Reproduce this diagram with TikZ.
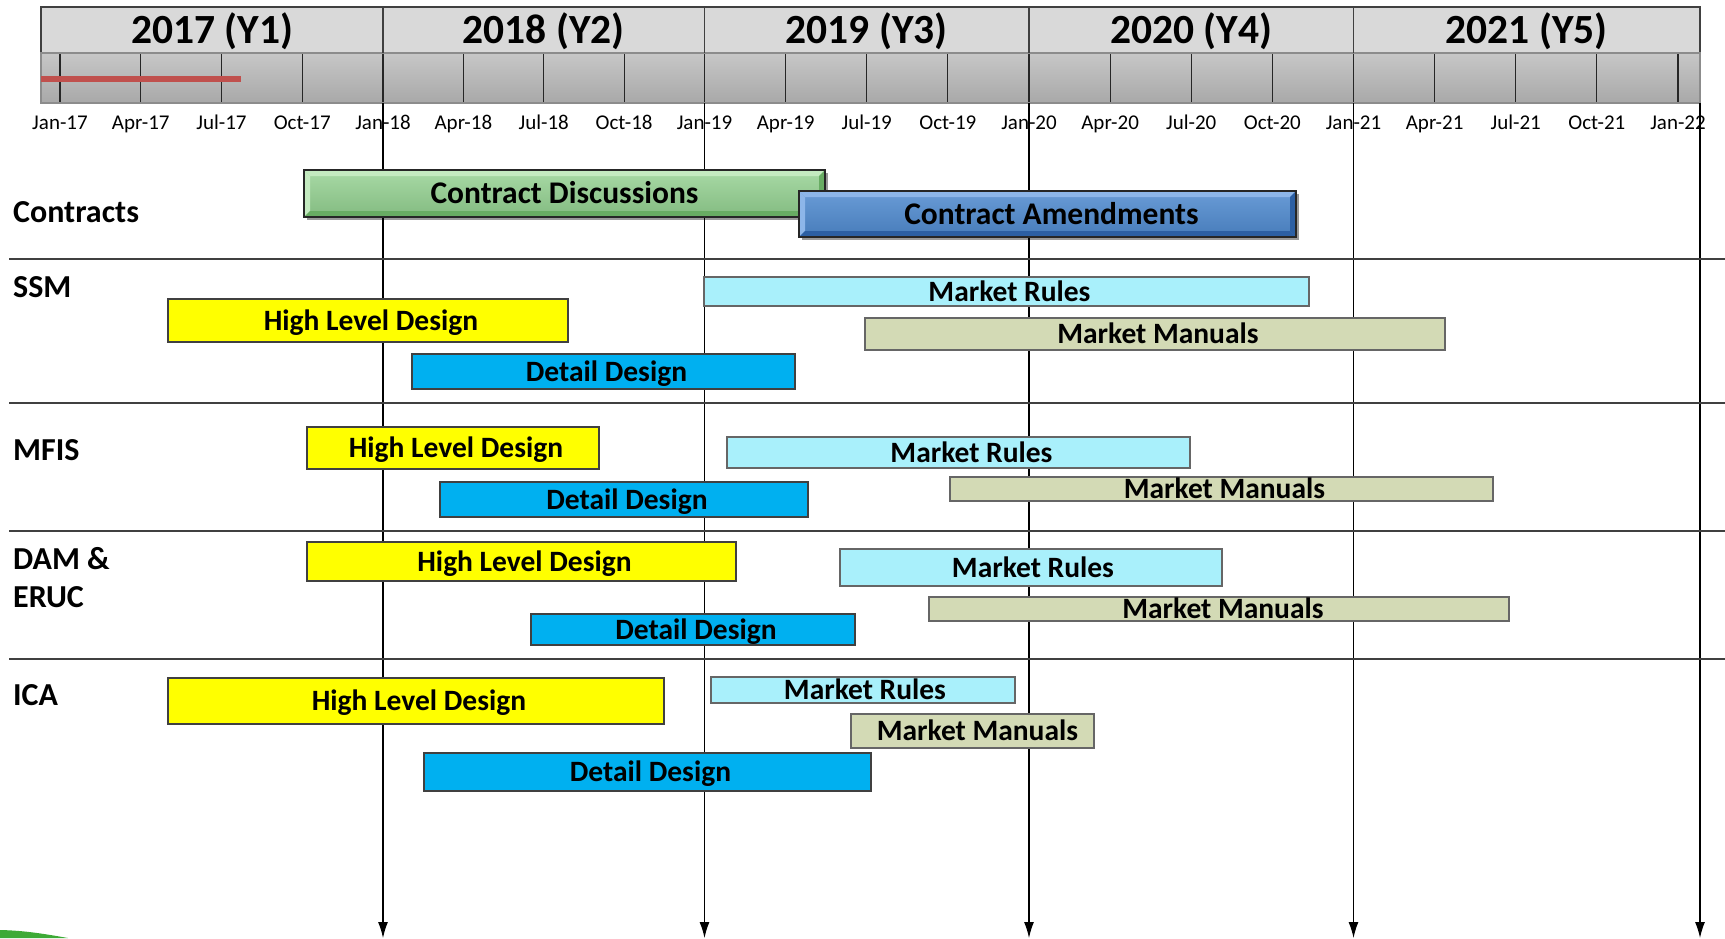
\documentclass[tikz,border=0pt]{standalone}
\usepackage{fontspec}
\setmainfont{Carlito}
\usetikzlibrary{arrows.meta,shadows,calc}
\definecolor{hlyel}{HTML}{FFFF00}
\definecolor{ddblue}{HTML}{00B0F0}
\definecolor{mrcyan}{HTML}{A9F0FB}
\definecolor{mmolive}{HTML}{D3DAB5}
\definecolor{hdrgray}{HTML}{D9D9D9}
\definecolor{redbar}{HTML}{C0504D}
\definecolor{cdgreen}{HTML}{92D08F}
\definecolor{cdgreenL}{HTML}{C4EAC0}
\definecolor{cdgreenD}{HTML}{68AC63}
\definecolor{cablue}{HTML}{4F8ACF}
\definecolor{cablueL}{HTML}{8DB6E9}
\definecolor{cablueD}{HTML}{2C5FA3}
\definecolor{sepgray}{HTML}{404040}
\definecolor{swoosh}{HTML}{3DAA36}
% #1 style, #2 name, #3 x1, #4 y1, #5 x2, #6 y2, #7 text shift, #8 text
\newcommand{\mybar}[8]{%
  \pgfmathsetmacro\bw{#5-#3}\pgfmathsetmacro\bh{#6-#4}%
  \node[#1, minimum width=\bw pt, minimum height=\bh pt] (#2) at (#3,#4) {};
  \node[bartext] (#2t) at ($(#2.center)+(#7,0)$) {#8};}
\newcommand{\mybevel}[4]{%
  \fill[#2] (#1.north west) -- (#1.north east) -- ($(#1.north east)+(-#4,#4)$) -- ($(#1.north west)+(#4,#4)$) -- cycle;
  \fill[#2] (#1.north west) -- ($(#1.north west)+(#4,#4)$) -- ($(#1.south west)+(#4,-#4)$) -- (#1.south west) -- cycle;
  \fill[#3] (#1.south west) -- (#1.south east) -- ($(#1.south east)+(-#4,-#4)$) -- ($(#1.south west)+(#4,-#4)$) -- cycle;
  \fill[#3] (#1.north east) -- ($(#1.north east)+(-#4,#4)$) -- ($(#1.south east)+(-#4,-#4)$) -- (#1.south east) -- cycle;
  \draw[black!85, line width=1.3pt] (#1.north west) rectangle (#1.south east);}
\begin{document}
\begin{tikzpicture}[x=1pt,y=-1pt,
  barbase/.style={draw=black!75, line width=1.1pt, inner sep=0pt, outer sep=0pt, anchor=north west},
  bartext/.style={inner sep=0pt, font=\fontsize{29.5}{34}\selectfont\bfseries, text height=19pt, text depth=0pt},
  cbartext/.style={inner sep=0pt, font=\fontsize{31.5}{36}\selectfont\bfseries, text height=20.3pt, text depth=0pt},
  hld/.style={barbase, fill=hlyel},
  ddb/.style={barbase, fill=ddblue},
  mrb/.style={barbase, fill=mrcyan, draw=black!60},
  mmb/.style={barbase, fill=mmolive, draw=black!60},
  cbar/.style={barbase,
    drop shadow={shadow xshift=3pt, shadow yshift=-3pt, opacity=0.4, fill=black}},
  rowlab/.style={anchor=base west, inner sep=0pt, font=\fontsize{32}{37}\selectfont\bfseries},
  yearlab/.style={anchor=base, inner sep=0pt, font=\fontsize{41.5}{48}\selectfont\bfseries},
  mlabel/.style={anchor=base, inner sep=0pt, font=\fontsize{21}{25}\selectfont},
  vline/.style={line width=1.2pt, black, -{Latex[length=16pt,width=10pt]}},
  sepline/.style={line width=1.5pt, sepgray},
  tick/.style={line width=1.2pt, black!85}
]
\useasboundingbox (0,0) rectangle (1725,938);
\fill[white] (0,0) rectangle (1725,938);

% header
\node[draw=sepgray, line width=1.5pt, fill=hdrgray, minimum width=1659pt, minimum height=46pt, anchor=north west, inner sep=0pt, outer sep=0pt] (yearrow) at (41,7) {};
\node[draw=black!45, line width=1.5pt, top color=black!22, bottom color=black!34, minimum width=1659pt, minimum height=50pt, anchor=north west, inner sep=0pt, outer sep=0pt] (monthrow) at (41,53) {};
\foreach \xx in {383,704.5,1029,1353.5} {\draw[sepgray, line width=1.5pt] (\xx,7) -- (\xx,53);}
\foreach \k/\a/\b/\yy in {0/60/383/17, 1/383/704.5/18, 2/704.5/1029/19, 3/1029/1353.5/20, 4/1353.5/1678/21} {
  \foreach \j/\m in {0/Jan,1/Apr,2/Jul,3/Oct} {
    \pgfmathsetmacro\xx{\a+\j*(\b-\a)/4}
    \draw[tick] (\xx,54) -- (\xx,102);
    \node[mlabel] (m\k\j) at (\xx,129) {\m-\yy};
  }
}
\draw[tick] (1678,54) -- (1678,102);
\node[mlabel] (m50) at (1678,129) {Jan-22};
\node[yearlab] (y1) at (212,43) {2017 (Y1)};
\node[yearlab] (y2) at (543.75,43) {2018 (Y2)};
\node[yearlab] (y3) at (866.75,43) {2019 (Y3)};
\node[yearlab] (y4) at (1191.25,43) {2020 (Y4)};
\node[yearlab] (y5) at (1526.75,43) {2021 (Y5)};
\coordinate (rs) at (41,79);
\coordinate (re) at (241,79);
\draw[redbar, line width=6pt] (rs) -- (re);

% vertical arrows
\foreach \i/\xx in {1/383,2/704.5,3/1029,4/1353.5,5/1700} {
  \coordinate (vt\i) at (\xx,103);
  \coordinate (vb\i) at (\xx,938);
  \draw[vline] (vt\i) -- (vb\i);
}

% separators
\foreach \i/\yy in {1/259,2/403,3/531,4/659} {
  \coordinate (sl\i) at (9,\yy);
  \coordinate (sr\i) at (1725,\yy);
  \draw[sepline] (sl\i) -- (sr\i);
}

% row labels
\node[rowlab] (lcon) at (13,222) {Contracts};
\node[rowlab] (lssm) at (13,297) {SSM};
\node[rowlab] (lmfis) at (13,460) {MFIS};
\node[rowlab] (ldam) at (13,569) {DAM \&};
\node[rowlab] (leruc) at (13,607) {ERUC};
\node[rowlab] (lica) at (13,705) {ICA};

% contracts
\mybar{cbar, top color=cdgreen!80!white, bottom color=cdgreen!90!black}{cd}{304}{170}{825}{217}{0}{}
\mybevel{cd}{cdgreenL}{cdgreenD}{6}
\node[cbartext] (cdtext) at (cd.center) {Contract Discussions};
\mybar{cbar, top color=cablue!85!white, bottom color=cablue!90!black}{ca}{799}{191}{1296}{237}{0}{}
\mybevel{ca}{cablueL}{cablueD}{6}
\node[cbartext] (catext) at ($(ca.center)+(4,0)$) {Contract Amendments};

% SSM
\mybar{mrb}{ssmmr}{704}{277}{1309}{306}{3}{Market Rules}
\mybar{hld}{ssmhld}{168}{299}{568}{342}{3}{High Level Design}
\mybar{mmb}{ssmmm}{865}{318}{1445}{350}{3}{Market Manuals}
\mybar{ddb}{ssmdd}{412}{354}{795}{389}{3}{Detail Design}

% MFIS
\mybar{hld}{mfishld}{307}{427}{599}{469}{3}{High Level Design}
\mybar{mrb}{mfismr}{727}{437}{1190}{468}{13}{Market Rules}
\mybar{mmb}{mfismm}{950}{477}{1493}{501}{3}{Market Manuals}
\mybar{ddb}{mfisdd}{440}{482}{808}{517}{3}{Detail Design}

% DAM & ERUC
\mybar{hld}{damhld}{307}{542}{736}{581}{3}{High Level Design}
\mybar{mrb}{dammr}{840}{549}{1222}{586}{2}{Market Rules}
\mybar{mmb}{dammm}{929}{597}{1509}{621}{4}{Market Manuals}
\mybar{ddb}{damdd}{531}{614}{855}{645}{3}{Detail Design}

% ICA
\mybar{hld}{icahld}{168}{678}{664}{724}{3}{High Level Design}
\mybar{mrb}{icamr}{711}{677}{1015}{703}{2}{Market Rules}
\mybar{mmb}{icamm}{851}{714}{1094}{748}{5}{Market Manuals}
\mybar{ddb}{icadd}{424}{753}{871}{791}{3}{Detail Design}

% swoosh
\fill[swoosh] (0,930) .. controls (25,930.5) and (45,934) .. (68,938) -- (0,938) -- cycle;
\end{tikzpicture}
\end{document}
